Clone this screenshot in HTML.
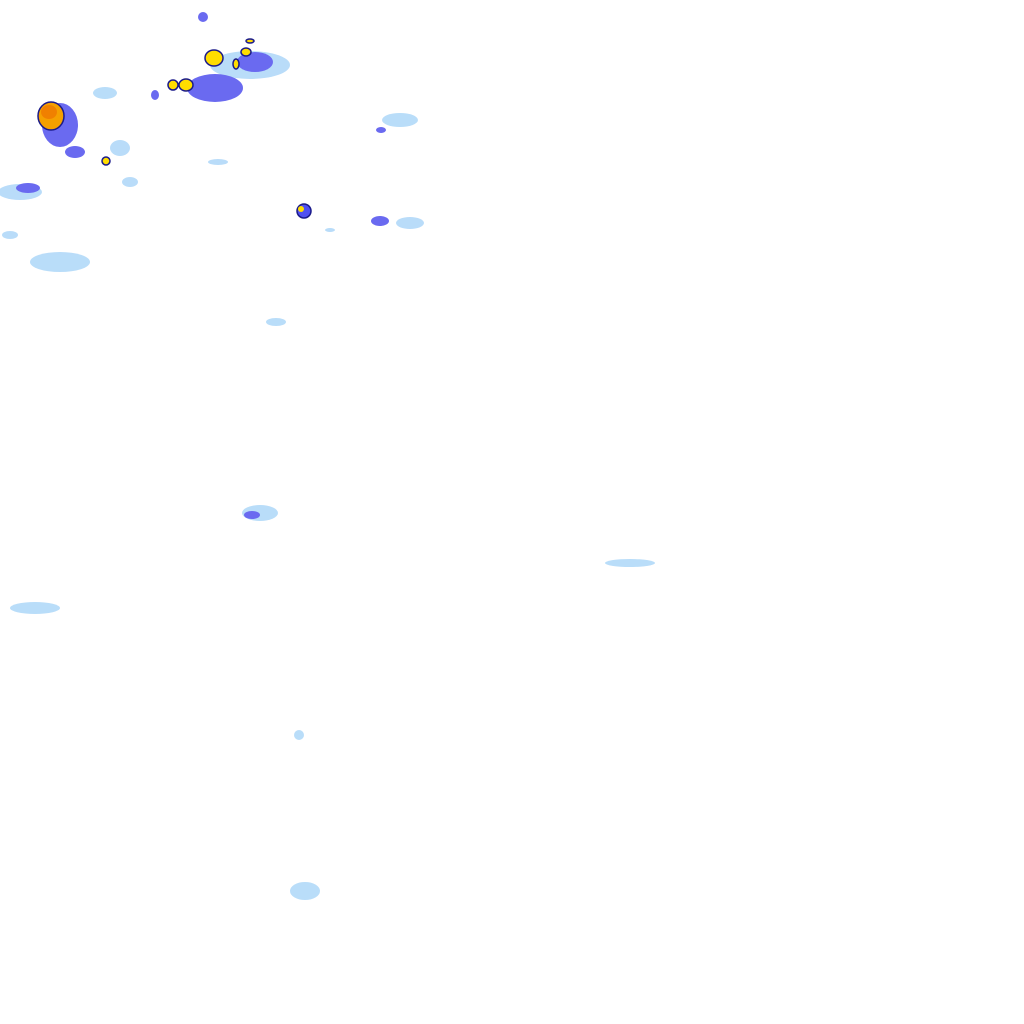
<!DOCTYPE html>
<html><head><style>html,body{margin:0;padding:0;background:#fff;width:1024px;height:1024px;overflow:hidden}</style></head>
<body>
<svg width="1024" height="1024" viewBox="0 0 1024 1024" xmlns="http://www.w3.org/2000/svg">
<g fill="#a8d4f8" opacity="0.8">
<ellipse cx="250" cy="65" rx="40" ry="14"/>
<ellipse cx="105" cy="93" rx="12" ry="6"/>
<ellipse cx="400" cy="120" rx="18" ry="7"/>
<ellipse cx="120" cy="148" rx="10" ry="8"/>
<ellipse cx="130" cy="182" rx="8" ry="5"/>
<ellipse cx="218" cy="162" rx="10" ry="3"/>
<ellipse cx="20" cy="192" rx="22" ry="8"/>
<ellipse cx="10" cy="235" rx="8" ry="4"/>
<ellipse cx="60" cy="262" rx="30" ry="10"/>
<ellipse cx="410" cy="223" rx="14" ry="6"/>
<ellipse cx="276" cy="322" rx="10" ry="4"/>
<ellipse cx="260" cy="513" rx="18" ry="8"/>
<ellipse cx="630" cy="563" rx="25" ry="4"/>
<ellipse cx="35" cy="608" rx="25" ry="6"/>
<ellipse cx="299" cy="735" rx="5" ry="5"/>
<ellipse cx="305" cy="891" rx="15" ry="9"/>
<ellipse cx="330" cy="230" rx="5" ry="2"/>
</g>
<g fill="#6a6af0">
<ellipse cx="215" cy="88" rx="28" ry="14"/>
<ellipse cx="255" cy="62" rx="18" ry="10"/>
<ellipse cx="60" cy="125" rx="18" ry="22"/>
<ellipse cx="75" cy="152" rx="10" ry="6"/>
<ellipse cx="203" cy="17" rx="5" ry="5"/>
<ellipse cx="380" cy="221" rx="9" ry="5"/>
<ellipse cx="28" cy="188" rx="12" ry="5"/>
<ellipse cx="381" cy="130" rx="5" ry="3"/>
<ellipse cx="155" cy="95" rx="4" ry="5"/>
<ellipse cx="252" cy="515" rx="8" ry="4"/>
</g>
<g stroke="#1a1a8a" stroke-width="1.5">
<ellipse cx="51" cy="116" rx="13" ry="14" fill="#f5a000"/>
<ellipse cx="214" cy="58" rx="9" ry="8" fill="#ffdd00"/>
<ellipse cx="186" cy="85" rx="7" ry="6" fill="#ffdd00"/>
<ellipse cx="173" cy="85" rx="5" ry="5" fill="#ffdd00"/>
<ellipse cx="246" cy="52" rx="5" ry="4" fill="#ffdd00"/>
<ellipse cx="236" cy="64" rx="3" ry="5" fill="#ffdd00"/>
<ellipse cx="250" cy="41" rx="4" ry="2" fill="#ffdd00"/>
<ellipse cx="304" cy="211" rx="7" ry="7" fill="#5050f0"/>
<ellipse cx="106" cy="161" rx="4" ry="4" fill="#ffdd00"/>
</g>
<ellipse cx="49" cy="112" rx="8" ry="7" fill="#f08000"/>
<ellipse cx="301" cy="209" rx="3" ry="3" fill="#ffdd00"/>
</svg>
</body></html>
